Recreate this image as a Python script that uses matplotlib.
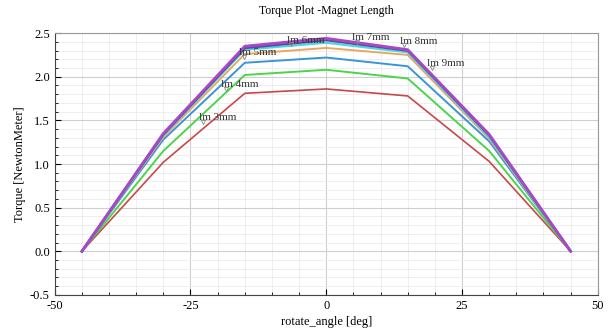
import numpy as np
import matplotlib.pyplot as plt
from matplotlib.ticker import MultipleLocator

angle = [-45, -30, -15, 0, 15, 30, 45]
labels = ['lm 3mm', 'lm 4mm', 'lm 5mm', 'lm 6mm', 'lm 7mm', 'lm 8mm', 'lm 9mm']
torque_3 = [0.0, 1.02, 1.81, 1.86, 1.78, 1.03, 0.0]
torque_4 = [0.0, 1.15, 2.02, 2.08, 1.98, 1.15, 0.0]
torque_5 = [0.0, 1.28, 2.16, 2.22, 2.12, 1.26, 0.0]
torque_6 = [0.0, 1.31, 2.26, 2.33, 2.25, 1.29, 0.0]
torque_7 = [0.0, 1.33, 2.31, 2.39, 2.28, 1.31, 0.0]
torque_8 = [0.0, 1.34, 2.33, 2.42, 2.30, 1.33, 0.0]
torque_9 = [0.0, 1.35, 2.35, 2.44, 2.31, 1.34, 0.0]
# where the curve labels sit (x, y of text)
label_pos = [(-23.5, 1.50), (-19.3, 1.88), (-16.0, 2.25), (-7.3, 2.39),
             (4.8, 2.42), (13.6, 2.38), (18.6, 2.12)]

series = [torque_3, torque_4, torque_5, torque_6, torque_7, torque_8, torque_9]
colors = ['#c84848', '#4cd44c', '#3a94d8', '#e8a860', '#48d8e0', '#5a4a9a', '#a848c8']
widths = [1.2, 1.4, 1.4, 1.4, 1.6, 1.8, 2.0]

plt.rcParams['font.family'] = ['Liberation Serif', 'DejaVu Serif']
plt.rcParams['axes.unicode_minus'] = False

fig = plt.figure(figsize=(6.15, 3.31), dpi=100)
ax = fig.add_axes([0.089, 0.109, 0.883, 0.791])

for y, c, w in zip(series, colors, widths):
    ax.plot(angle, y, color=c, lw=w, zorder=3)

for lab, (tx, ty), y in zip(labels, label_pos, series):
    ax.text(tx, ty, lab, fontsize=8, color='#333333', zorder=4)
    ax.plot(tx + 0.8, ty - 0.02, marker='v', ms=3, mfc='none', mec='#888888', mew=0.6, zorder=4)

ax.set_xlim(-50, 50)
ax.set_ylim(-0.5, 2.5)
ax.xaxis.set_major_locator(MultipleLocator(25))
ax.xaxis.set_minor_locator(MultipleLocator(5))
ax.yaxis.set_major_locator(MultipleLocator(0.5))
ax.yaxis.set_minor_locator(MultipleLocator(0.1))
ax.set_yticks(np.arange(-0.5, 2.51, 0.5))
ax.set_yticklabels(['%.1f' % v for v in np.arange(-0.5, 2.51, 0.5)])
ax.grid(which='major', color='#cfcfcf', lw=0.8)
ax.grid(which='minor', color='#ebebeb', lw=0.6)
ax.set_axisbelow(True)
ax.tick_params(which='both', direction='in', top=False, right=False, labelsize=9)
ax.tick_params(which='major', length=4)
ax.tick_params(which='minor', length=2)
for s in ax.spines.values():
    s.set_color('#999999')
ax.spines['left'].set_color('#444444')
ax.spines['bottom'].set_color('#444444')

ax.set_title('Torque Plot -Magnet Length', fontsize=8.5, pad=14)
ax.set_xlabel('rotate_angle [deg]', fontsize=9, labelpad=3)
ax.set_ylabel('Torque [NewtonMeter]', fontsize=9, labelpad=3)

fig.savefig('out.png', dpi=100)
